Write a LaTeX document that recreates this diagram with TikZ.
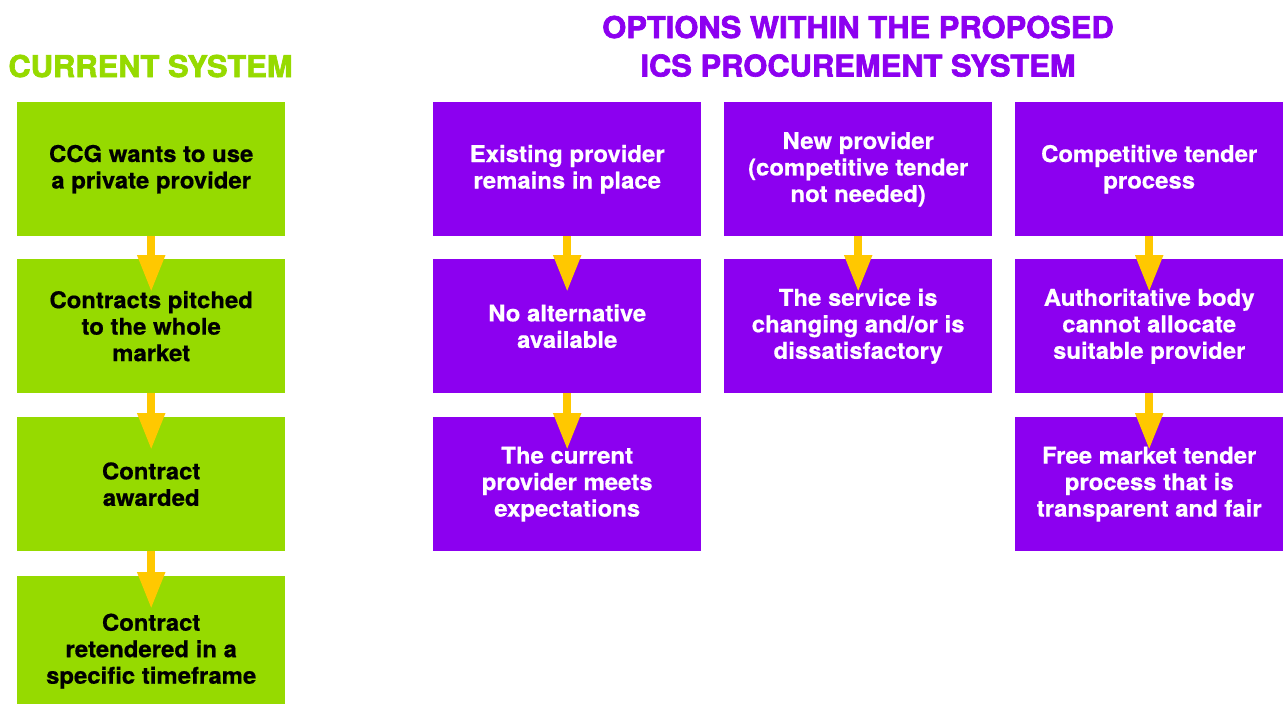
\documentclass[tikz,border=0pt]{standalone}
\usepackage{fontspec}
\setmainfont{TeX Gyre Heros}
\newfontfamily\headfont{TeX Gyre Heros}[FakeBold=2.2,FakeStretch=1.03]
\newfontfamily\bodyfont{TeX Gyre Heros}[FakeBold=0.6,FakeStretch=1.04]
\usetikzlibrary{arrows.meta}

\definecolor{limegreen}{RGB}{150,218,0}
\definecolor{violet}{RGB}{140,0,240}
\definecolor{amber}{RGB}{255,200,0}

\tikzset{
  box/.style={rectangle, anchor=north west, minimum width=268pt, minimum height=134pt,
    inner sep=0pt, align=center, font=\fontsize{23}{26.5}\selectfont\bodyfont\bfseries},
  currentbox/.style={box, fill=limegreen, text=black},
  optionbox/.style={box, fill=violet, text=white},
  heading/.style={anchor=base, font=\fontsize{30}{36}\selectfont\headfont\bfseries},
  flow/.style={draw=amber, line width=8pt, -{Triangle[width=26pt,length=37pt]}}
}

\begin{document}
\begin{tikzpicture}[x=1pt, y=-1pt]
\useasboundingbox (0,0) rectangle (1283,704);

% headings
\node[heading, text=limegreen] (hcur) at (150.5,77) {CURRENT SYSTEM};
\node[heading, text=violet] (hopt1) at (858,38) {OPTIONS WITHIN THE PROPOSED};
\node[heading, text=violet] (hopt2) at (858,76.5) {ICS PROCUREMENT SYSTEM};

% current system
\node[currentbox] (c1) at (17,102) {CCG wants to use\\a private provider};
\node[currentbox] (c2) at (17,259) {Contracts pitched\\to the whole\\market};
\node[currentbox] (c3) at (17,417) {Contract\\awarded};
\node[currentbox, minimum height=150pt] (c4) at (17,576) {Contract\\retendered in a\\specific timeframe};

% option: existing provider
\node[optionbox] (a1) at (433,102) {Existing provider\\remains in place};
\node[optionbox] (a2) at (433,259) {No alternative\\available};
\node[optionbox] (a3) at (433,417) {The current\\provider meets\\expectations};

% option: new provider
\node[optionbox] (b1) at (724,102) {New provider\\(competitive tender\\not needed)};
\node[optionbox] (b2) at (724,259) {The service is\\changing and/or is\\dissatisfactory};

% option: competitive tender
\node[optionbox] (d1) at (1015,102) {Competitive tender\\process};
\node[optionbox] (d2) at (1015,259) {Authoritative body\\cannot allocate\\suitable provider};
\node[optionbox] (d3) at (1015,417) {Free market tender\\process that is\\transparent and fair};

% arrows
\foreach \s/\t in {c1/c2, c2/c3, c3/c4, a1/a2, a2/a3, b1/b2, d1/d2, d2/d3}
  \draw[flow] (\s.south) -- ([yshift=-33pt]\t.north);
\end{tikzpicture}
\end{document}
